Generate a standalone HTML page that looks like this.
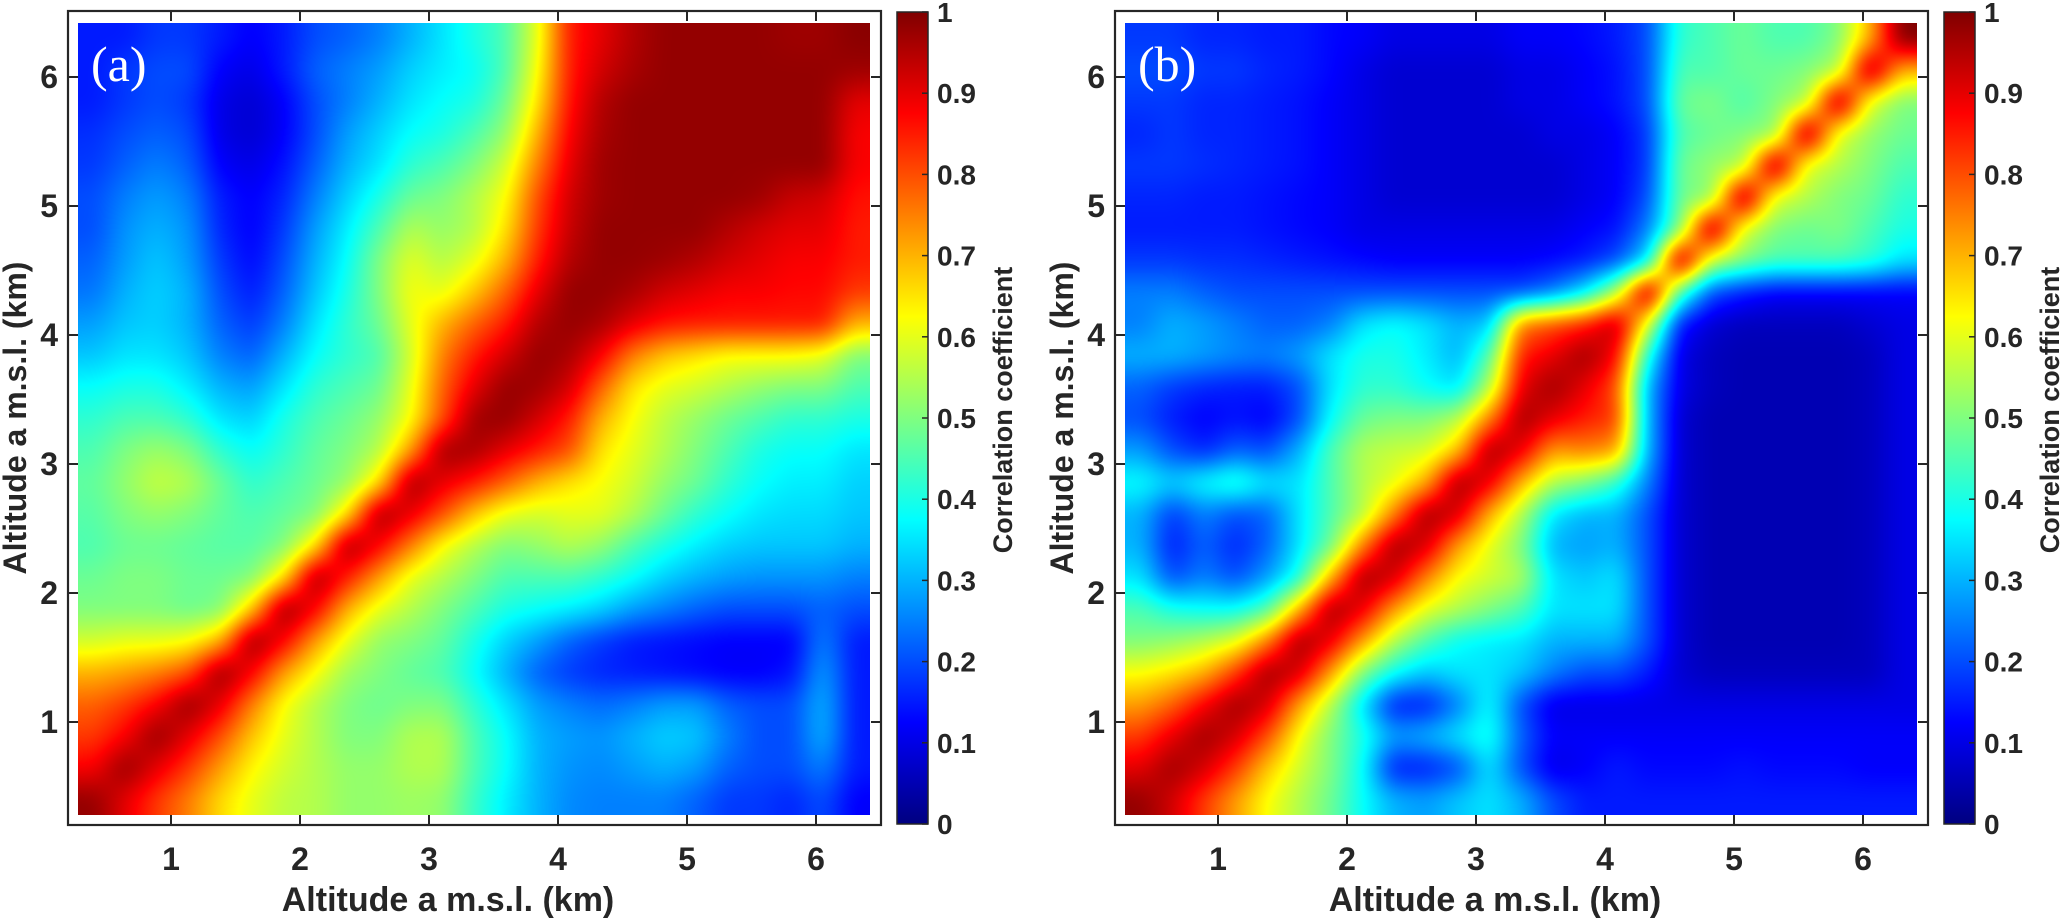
<!DOCTYPE html>
<html><head><meta charset="utf-8">
<style>
html,body{margin:0;padding:0;background:#fff;}
#wrap{position:relative;width:2067px;height:921px;overflow:hidden;background:#fff;}
canvas{position:absolute;}
svg{position:absolute;left:0;top:0;}
text{font-family:"Liberation Sans",Arial,sans-serif;font-weight:bold;fill:#262626;}
</style></head>
<body>
<div id="wrap">
<canvas id="cA" width="792" height="792" style="left:78px;top:23px"></canvas>
<canvas id="cB" width="792" height="792" style="left:1125px;top:23px"></canvas>
<svg id="sv" width="2067" height="921">
<defs><linearGradient id="jet" x1="0" y1="1" x2="0" y2="0">
<stop offset="0" stop-color="#000080"/><stop offset="0.125" stop-color="#0000ff"/>
<stop offset="0.375" stop-color="#00ffff"/><stop offset="0.625" stop-color="#ffff00"/>
<stop offset="0.875" stop-color="#ff0000"/><stop offset="1" stop-color="#800000"/></linearGradient></defs>
</svg>
</div>
<script>
// altitude cell centres (km), columns = x, rows = y
const altCenters=[0.40,0.65,0.89,1.14,1.38,1.63,1.87,2.12,2.37,2.61,2.86,3.10,3.35,3.59,3.84,4.08,4.33,4.58,4.82,5.07,5.31,5.56,5.80,6.05,6.30];
const axisTicks=[1,2,3,4,5,6];
const cbTicks=[0,0.1,0.2,0.3,0.4,0.5,0.6,0.7,0.8,0.9,1];
const cbTickLabels=["0","0.1","0.2","0.3","0.4","0.5","0.6","0.7","0.8","0.9","1"];
// panel (a) correlation, rows from top (y=6.30) to bottom (y=0.40)
const panelA=[
[.15,.15,.18,.18,.15,.12,.15,.2,.22,.25,.3,.35,.4,.45,.6,.85,.9,.95,.98,.98,.98,.98,.97,.97,.99],
[.15,.18,.2,.2,.12,.1,.15,.22,.25,.28,.33,.36,.38,.45,.62,.85,.92,.96,.98,.98,.98,.98,.98,.98,.97],
[.15,.18,.2,.18,.1,.08,.12,.2,.25,.3,.35,.38,.4,.48,.65,.86,.95,.98,.98,.98,.98,.98,.98,.98,.9],
[.17,.2,.22,.2,.1,.08,.12,.2,.28,.33,.38,.4,.45,.52,.7,.88,.96,.98,.98,.98,.98,.98,.98,.98,.88],
[.18,.22,.25,.22,.12,.1,.14,.22,.3,.35,.42,.45,.5,.58,.75,.9,.97,.98,.98,.98,.98,.98,.98,.98,.88],
[.2,.25,.28,.25,.15,.12,.16,.25,.33,.4,.48,.5,.55,.62,.8,.92,.97,.98,.98,.98,.98,.97,.93,.92,.86],
[.2,.27,.3,.27,.16,.12,.18,.28,.36,.45,.55,.52,.55,.65,.82,.93,.98,.98,.98,.98,.95,.92,.9,.9,.85],
[.22,.28,.32,.28,.18,.13,.2,.3,.38,.5,.6,.55,.6,.7,.85,.95,.98,.98,.97,.95,.92,.9,.88,.88,.85],
[.24,.3,.33,.3,.2,.15,.22,.32,.4,.5,.62,.6,.68,.78,.9,.98,.98,.96,.92,.9,.88,.88,.87,.87,.82],
[.28,.32,.33,.3,.22,.18,.25,.35,.42,.48,.6,.7,.78,.85,.95,.98,.96,.9,.86,.85,.85,.85,.85,.85,.7],
[.32,.35,.35,.32,.25,.22,.3,.38,.42,.45,.58,.75,.85,.92,.98,.96,.88,.75,.68,.65,.62,.62,.62,.6,.5],
[.38,.4,.4,.36,.3,.28,.35,.42,.45,.48,.6,.78,.9,.98,.97,.92,.78,.65,.6,.58,.55,.52,.5,.5,.45],
[.42,.45,.45,.42,.35,.33,.4,.45,.48,.52,.62,.8,.97,.98,.92,.85,.7,.62,.56,.52,.48,.45,.42,.42,.4],
[.45,.5,.53,.5,.42,.38,.42,.47,.5,.55,.72,.97,.96,.9,.85,.8,.65,.6,.55,.5,.45,.4,.38,.38,.35],
[.47,.52,.57,.55,.48,.42,.45,.48,.52,.65,.97,.9,.85,.78,.7,.65,.62,.58,.52,.48,.42,.38,.36,.36,.33],
[.46,.5,.52,.5,.47,.45,.47,.5,.65,.97,.9,.8,.68,.6,.58,.6,.6,.55,.48,.42,.38,.35,.34,.34,.32],
[.45,.48,.48,.47,.46,.46,.5,.65,.97,.88,.75,.62,.55,.5,.52,.55,.52,.45,.4,.36,.33,.32,.32,.32,.3],
[.48,.5,.5,.48,.48,.5,.65,.97,.85,.72,.6,.55,.5,.45,.45,.45,.42,.38,.33,.3,.28,.27,.27,.27,.25],
[.5,.5,.5,.48,.5,.68,.98,.88,.7,.6,.55,.5,.45,.4,.38,.36,.33,.28,.25,.22,.2,.2,.2,.22,.2],
[.58,.6,.6,.62,.7,.98,.88,.72,.6,.52,.5,.47,.4,.33,.28,.22,.18,.15,.14,.13,.12,.12,.12,.25,.15],
[.7,.72,.75,.8,.98,.88,.72,.62,.53,.5,.47,.45,.38,.3,.22,.18,.16,.15,.14,.13,.12,.12,.14,.28,.15],
[.78,.82,.88,.98,.9,.75,.62,.55,.5,.48,.5,.5,.42,.35,.28,.25,.23,.25,.28,.28,.22,.2,.2,.3,.15],
[.82,.88,.98,.9,.8,.68,.6,.55,.5,.5,.55,.55,.45,.38,.3,.28,.27,.3,.33,.32,.25,.2,.2,.3,.15],
[.88,.98,.9,.82,.72,.63,.58,.55,.52,.52,.55,.55,.45,.38,.3,.27,.26,.28,.3,.28,.22,.2,.2,.25,.15],
[.98,.9,.82,.75,.66,.6,.56,.55,.52,.52,.53,.52,.43,.36,.3,.26,.25,.25,.25,.22,.18,.18,.16,.2,.12]];
// panel (b) correlation, rows from top (y=6.30) to bottom (y=0.40)
const panelB=[
[.18,.18,.16,.16,.15,.15,.13,.12,.1,.1,.1,.1,.12,.12,.13,.15,.2,.42,.45,.48,.45,.45,.5,.7,1],
[.2,.2,.18,.18,.16,.15,.13,.1,.08,.08,.08,.08,.1,.1,.12,.14,.2,.45,.45,.48,.48,.5,.55,.97,.7],
[.18,.18,.16,.16,.15,.14,.12,.1,.08,.08,.08,.08,.1,.1,.12,.14,.2,.48,.5,.45,.5,.55,.97,.6,.5],
[.16,.18,.16,.16,.15,.14,.12,.1,.08,.08,.08,.08,.08,.1,.1,.12,.18,.45,.48,.5,.52,.97,.6,.52,.48],
[.18,.18,.17,.16,.15,.14,.12,.1,.08,.08,.08,.08,.08,.08,.1,.12,.18,.48,.52,.55,.97,.6,.55,.5,.45],
[.16,.16,.15,.15,.14,.13,.12,.1,.08,.08,.08,.08,.08,.08,.1,.12,.2,.48,.52,.97,.6,.55,.5,.48,.42],
[.15,.15,.15,.15,.14,.13,.12,.1,.1,.1,.1,.1,.1,.1,.12,.14,.25,.5,.97,.6,.5,.48,.5,.45,.4],
[.18,.18,.17,.17,.16,.15,.14,.13,.12,.12,.12,.12,.12,.13,.15,.2,.35,.97,.58,.5,.45,.45,.45,.42,.35],
[.25,.25,.22,.2,.2,.2,.2,.2,.2,.2,.2,.2,.2,.25,.35,.55,.97,.45,.2,.15,.12,.12,.12,.12,.12],
[.25,.3,.28,.25,.22,.22,.25,.35,.38,.35,.3,.32,.75,.8,.85,.95,.6,.15,.08,.06,.06,.06,.06,.08,.1],
[.3,.3,.28,.26,.25,.28,.35,.4,.4,.36,.3,.45,.85,.9,.97,.88,.4,.1,.06,.05,.05,.05,.05,.06,.1],
[.22,.18,.16,.15,.15,.2,.35,.42,.42,.38,.35,.55,.9,.97,.9,.8,.3,.1,.06,.05,.05,.05,.05,.06,.1],
[.2,.15,.12,.14,.12,.2,.38,.48,.5,.5,.55,.75,.97,.9,.85,.82,.3,.08,.05,.05,.05,.05,.05,.06,.1],
[.28,.2,.16,.22,.2,.3,.45,.55,.57,.58,.68,.97,.9,.72,.75,.72,.3,.08,.05,.05,.05,.05,.05,.06,.1],
[.38,.33,.38,.42,.35,.35,.45,.55,.6,.7,.97,.9,.7,.55,.5,.42,.25,.08,.05,.05,.05,.05,.05,.06,.1],
[.3,.18,.25,.2,.22,.35,.45,.55,.75,.97,.92,.7,.55,.35,.3,.3,.2,.08,.05,.05,.05,.05,.05,.06,.1],
[.3,.15,.22,.16,.22,.35,.48,.75,.97,.92,.72,.6,.5,.3,.28,.3,.2,.08,.05,.05,.05,.05,.05,.06,.1],
[.35,.2,.25,.2,.28,.4,.7,.97,.92,.75,.62,.58,.55,.35,.32,.35,.2,.08,.05,.05,.05,.05,.05,.06,.1],
[.45,.4,.38,.38,.45,.7,.97,.9,.72,.6,.55,.5,.45,.35,.35,.35,.2,.08,.05,.05,.05,.05,.05,.06,.1],
[.5,.52,.55,.6,.75,.97,.9,.72,.55,.45,.38,.36,.35,.3,.3,.3,.2,.08,.05,.05,.05,.05,.05,.06,.1],
[.62,.65,.7,.82,.97,.92,.72,.5,.38,.32,.35,.35,.32,.25,.2,.2,.15,.08,.06,.06,.06,.06,.06,.06,.1],
[.72,.78,.88,.97,.92,.72,.55,.35,.15,.15,.25,.38,.2,.1,.1,.1,.1,.1,.1,.1,.1,.1,.1,.1,.1],
[.82,.9,.97,.92,.8,.62,.5,.4,.28,.3,.35,.4,.22,.12,.12,.12,.12,.12,.12,.12,.12,.12,.12,.12,.12],
[.9,.97,.92,.82,.68,.58,.5,.38,.15,.15,.2,.35,.2,.1,.12,.15,.13,.13,.13,.14,.13,.13,.13,.12,.12],
[.98,.92,.82,.72,.62,.55,.48,.38,.3,.28,.32,.35,.3,.2,.15,.15,.15,.15,.15,.15,.15,.15,.15,.15,.15]];

const KM0=0.28, KM1=6.42, PX=129;
function xScale(km,off){return 171+off+(km-1)*PX;}
function yScale(km){return 722-(km-1)*PX;}
function cbY(v){return 824-v*812;}
function jet(v){const c=t=>Math.max(0,Math.min(1,t));return [c(1.5-Math.abs(4*v-3)),c(1.5-Math.abs(4*v-2)),c(1.5-Math.abs(4*v-1))].map(t=>Math.round(t*255));}

function boxBlur(F,W,H,r){
  const T=new Float32Array(W*H);
  for(let y=0;y<H;y++){for(let x=0;x<W;x++){let s=0,n=0;for(let k=-r;k<=r;k++){const xx=Math.min(W-1,Math.max(0,x+k));s+=F[y*W+xx];n++;}T[y*W+x]=s/n;}}
  for(let x=0;x<W;x++){for(let y=0;y<H;y++){let s=0,n=0;for(let k=-r;k<=r;k++){const yy=Math.min(H-1,Math.max(0,y+k));s+=T[yy*W+x];n++;}F[y*W+x]=s/n;}}
}
function drawHeat(id,M){
  const cv=document.getElementById(id),ctx=cv.getContext('2d');
  const W=cv.width,H=cv.height;
  const S=4,w=W/S,h=H/S,F=new Float32Array(w*h);
  const n=altCenters.length,c0=altCenters[0],st=(altCenters[n-1]-c0)/(n-1);
  const val=(xi,yi)=>M[n-1-yi][xi];
  for(let py=0;py<h;py++){
    const ykm=KM1-(py*S+S/2)/PX;
    const fy=Math.max(0,Math.min(n-1.0001,(ykm-c0)/st));const y0=Math.floor(fy),ty=fy-y0;
    for(let px=0;px<w;px++){
      const xkm=KM0+(px*S+S/2)/PX;
      const fx=Math.max(0,Math.min(n-1.0001,(xkm-c0)/st));const x0=Math.floor(fx),tx=fx-x0;
      F[py*w+px]=(val(x0,y0)*(1-tx)+val(x0+1,y0)*tx)*(1-ty)+(val(x0,y0+1)*(1-tx)+val(x0+1,y0+1)*tx)*ty;
    }
  }
  boxBlur(F,w,h,2);boxBlur(F,w,h,2);
  const img=ctx.createImageData(W,H);
  for(let py=0;py<H;py++){
    let fy=Math.max(0,Math.min(h-1.0001,(py+0.5)/S-0.5));const y0=Math.floor(fy),ty=fy-y0;
    for(let px=0;px<W;px++){
      let fx=Math.max(0,Math.min(w-1.0001,(px+0.5)/S-0.5));const x0=Math.floor(fx),tx=fx-x0;
      const v=(F[y0*w+x0]*(1-tx)+F[y0*w+x0+1]*tx)*(1-ty)+(F[(y0+1)*w+x0]*(1-tx)+F[(y0+1)*w+x0+1]*tx)*ty;
      const col=jet(v),i=(py*W+px)*4;
      img.data[i]=col[0];img.data[i+1]=col[1];img.data[i+2]=col[2];img.data[i+3]=255;
    }
  }
  ctx.putImageData(img,0,0);
}
drawHeat('cA',panelA);
drawHeat('cB',panelB);

const sv=document.getElementById('sv');
const NS='http://www.w3.org/2000/svg';
function mk(tag,attrs,txt){const e=document.createElementNS(NS,tag);for(const k in attrs)e.setAttribute(k,attrs[k]);if(txt!==undefined)e.textContent=txt;sv.appendChild(e);return e;}

[[0,'a'],[1047,'b']].forEach(([off,lab])=>{
  const L=68+off,R=881+off,T=11,B=825;
  const fr=mk('rect',{x:L,y:T,width:R-L,height:B-T,fill:'none',stroke:'#262626','stroke-width':2.2});
  
  
  axisTicks.forEach(t=>{
    const x=xScale(t,off),y=yScale(t);
    const tb=mk('path',{d:`M${x},${B}v-10M${x},${T}v10M${L},${y}h10M${R},${y}h-10`,stroke:'#262626','stroke-width':2});
    
    
    const xl=mk('text',{x:x,y:870,'font-size':32,'text-anchor':'middle'},String(t));
    
    
    const yl=mk('text',{x:L-10,y:y+11,'font-size':32,'text-anchor':'end'},String(t));
    
    
  });
  const xt=mk('text',{x:448+off,y:911,'font-size':34,'text-anchor':'middle'},'Altitude a m.s.l. (km)');
  
  
  const yt=mk('text',{x:0,y:0,'font-size':32,'text-anchor':'middle',transform:`translate(${26+off},418) rotate(-90)`},'Altitude a m.s.l. (km)');
  
  
  const pl=mk('text',{x:91+off,y:81,'font-size':50,'text-anchor':'start',style:'font-family:"Liberation Serif",serif;font-weight:normal;fill:#fff'},'('+lab+')');
  
  
  const cx=897+off;
  const cb=mk('rect',{x:cx,y:cbY(1),width:31,height:cbY(0)-cbY(1),fill:'url(#jet)',stroke:'#262626','stroke-width':1.5});
  
  
  cbTicks.forEach((v,i)=>{
    const y=cbY(v);
    const tk=mk('path',{d:`M${cx+31},${y}h-6`,stroke:'#262626','stroke-width':1.5});
    
    
    const tl=mk('text',{x:cx+40,y:y+10,'font-size':28,'text-anchor':'start'},cbTickLabels[i]);
    
    
  });
  const ct=mk('text',{x:0,y:0,'font-size':27,'text-anchor':'middle',transform:`translate(${1012+off},410) rotate(-90)`},'Correlation coefficient');
  
  
});
</script>
</body></html>
